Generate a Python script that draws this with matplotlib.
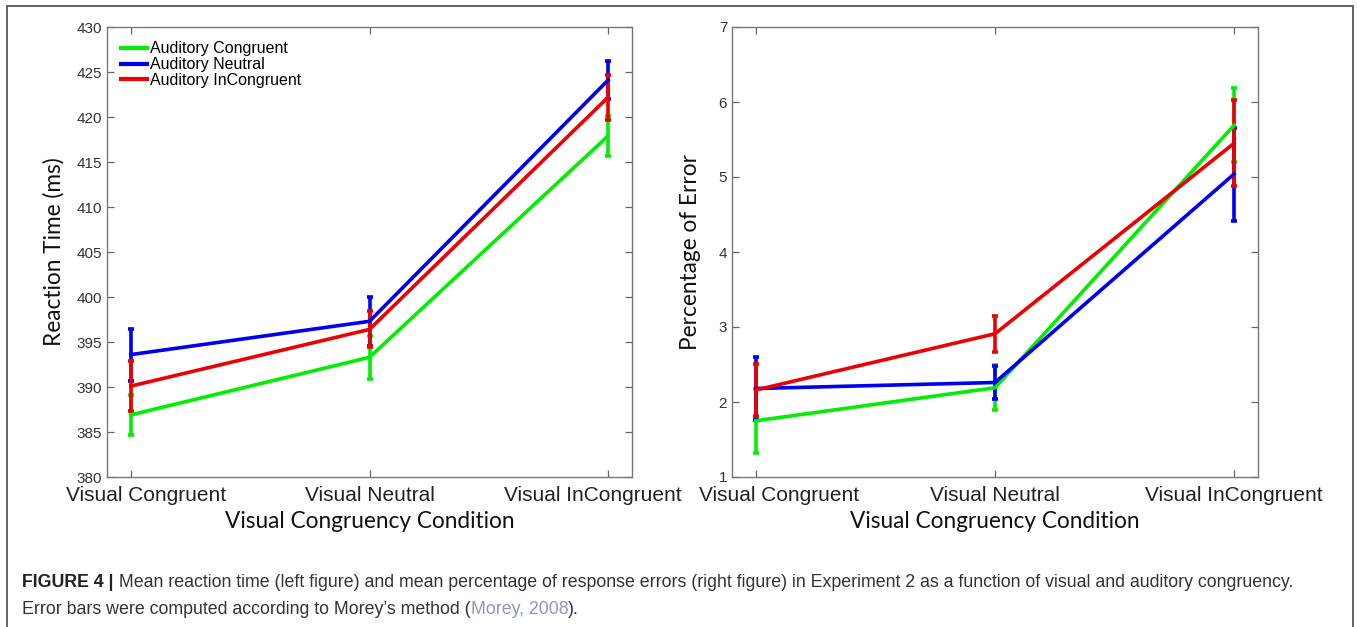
import numpy as np
import matplotlib
matplotlib.use("Agg")
import matplotlib.pyplot as plt
from matplotlib.patches import Rectangle
from matplotlib.lines import Line2D
from matplotlib.transforms import ScaledTranslation

conditions = ["Visual Congruent", "Visual Neutral", "Visual InCongruent"]
series = ["Auditory Congruent", "Auditory Neutral", "Auditory InCongruent"]
colors = ["#00ee00", "#0000ee", "#ee0000"]

# mean reaction time (ms) and Morey error bars
rt_congruent = [386.9, 393.3, 417.9]
rt_neutral = [393.6, 397.3, 424.1]
rt_incongruent = [390.1, 396.4, 422.2]
rt_err_congruent = [2.2, 2.4, 2.2]
rt_err_neutral = [2.9, 2.7, 2.1]
rt_err_incongruent = [2.8, 2.0, 2.5]

# mean percentage of errors
pe_congruent = [1.75, 2.19, 5.69]
pe_neutral = [2.18, 2.26, 5.04]
pe_incongruent = [2.16, 2.91, 5.45]
pe_err_congruent = [0.43, 0.30, 0.49]
pe_err_neutral = [0.42, 0.22, 0.62]
pe_err_incongruent = [0.35, 0.24, 0.57]

rt_means = [rt_congruent, rt_neutral, rt_incongruent]
rt_errs = [rt_err_congruent, rt_err_neutral, rt_err_incongruent]
pe_means = [pe_congruent, pe_neutral, pe_incongruent]
pe_errs = [pe_err_congruent, pe_err_neutral, pe_err_incongruent]

label_font = "Lato"
tick_font = "Liberation Sans"

fig = plt.figure(figsize=(13.57, 6.27), dpi=100)

# outer frame of the figure panel
fig.patches.append(Rectangle((7 / 1357, -0.05), 1346 / 1357, 1.05 - 6 / 627,
                             transform=fig.transFigure, fill=False,
                             edgecolor="#555555", linewidth=1.3))

ax1 = fig.add_axes([107 / 1357, 1 - 477 / 627, 525 / 1357, 450 / 627])
ax2 = fig.add_axes([732 / 1357, 1 - 477 / 627, 526 / 1357, 450 / 627])

x = np.arange(1, len(conditions) + 1)


def draw_panel(ax, means, errs, shifts):
    for m, e, c in zip(means, errs, colors):
        ax.errorbar(x, m, yerr=e, color=c, linewidth=2.6, elinewidth=2.6,
                    capsize=2.2, capthick=2.6)
    ax.set_xlim(0.9, 3.1)
    ax.set_xticks(x)
    ax.set_xticklabels([])
    # category names drawn by hand, outer ones nudged inwards
    for xi, name, dx in zip(x, conditions, shifts):
        off = ScaledTranslation(dx / 100, -9 / 100, fig.dpi_scale_trans)
        ax.text(xi, 0, name, transform=ax.get_xaxis_transform() + off,
                ha="center", va="top", fontsize=15, family=tick_font,
                color="#222222", clip_on=False)
    ax.tick_params(direction="in", top=True, right=True, length=5,
                   color="#666666", width=0.9)
    ax.tick_params(axis="y", labelsize=11, labelcolor="#333333")
    for s in ax.spines.values():
        s.set_color("#777777")
        s.set_linewidth(1.0)
    ax.set_xlabel("Visual Congruency Condition", fontsize=16.3,
                  family=label_font, color="#111111", labelpad=21)


draw_panel(ax1, rt_means, rt_errs, [15, 0, -15])
ax1.set_ylim(380, 430)
ax1.set_yticks(np.arange(380, 431, 5))
for lab in ax1.get_yticklabels():
    lab.set_family(tick_font)
ax1.set_ylabel("Reaction Time (ms)", fontsize=16.3, family=label_font,
               color="#111111", labelpad=9)
handles = [Line2D([], [], color=c, linewidth=3) for c in colors]
ax1.legend(handles, series, loc="upper left", frameon=False, handlelength=1.6,
           handletextpad=0.2, labelspacing=0.05, borderaxespad=0.5,
           prop={"family": tick_font, "size": 11.5})

draw_panel(ax2, pe_means, pe_errs, [23, 0, 0])
ax2.set_ylim(1, 7)
ax2.set_yticks(np.arange(1, 8))
for lab in ax2.get_yticklabels():
    lab.set_family(tick_font)
ax2.set_ylabel("Percentage of Error", fontsize=16.3, family=label_font,
               color="#111111", labelpad=13)

# caption, assembled from pieces with different styles
caption_1 = [("FIGURE 4 |", "bold", "#222222"),
             (" Mean reaction time (left figure) and mean percentage of response errors"
              " (right figure) in Experiment 2 as a function of visual and auditory congruency.",
              "normal", "#333333")]
caption_2 = [("Error bars were computed according to Morey\u2019s method (", "normal", "#333333"),
             ("Morey, 2008", "normal", "#8899bb"),
             (").", "normal", "#333333")]

renderer = fig.canvas.get_renderer()
for parts, ypix in [(caption_1, 587), (caption_2, 614)]:
    xpix = 22
    for txt, weight, col in parts:
        t = fig.text(xpix / 1357, 1 - ypix / 627, txt, fontsize=12.8,
                     family=tick_font, weight=weight, color=col, va="baseline")
        bb = t.get_window_extent(renderer)
        xpix += bb.width

fig.savefig("out.png", dpi=100)
